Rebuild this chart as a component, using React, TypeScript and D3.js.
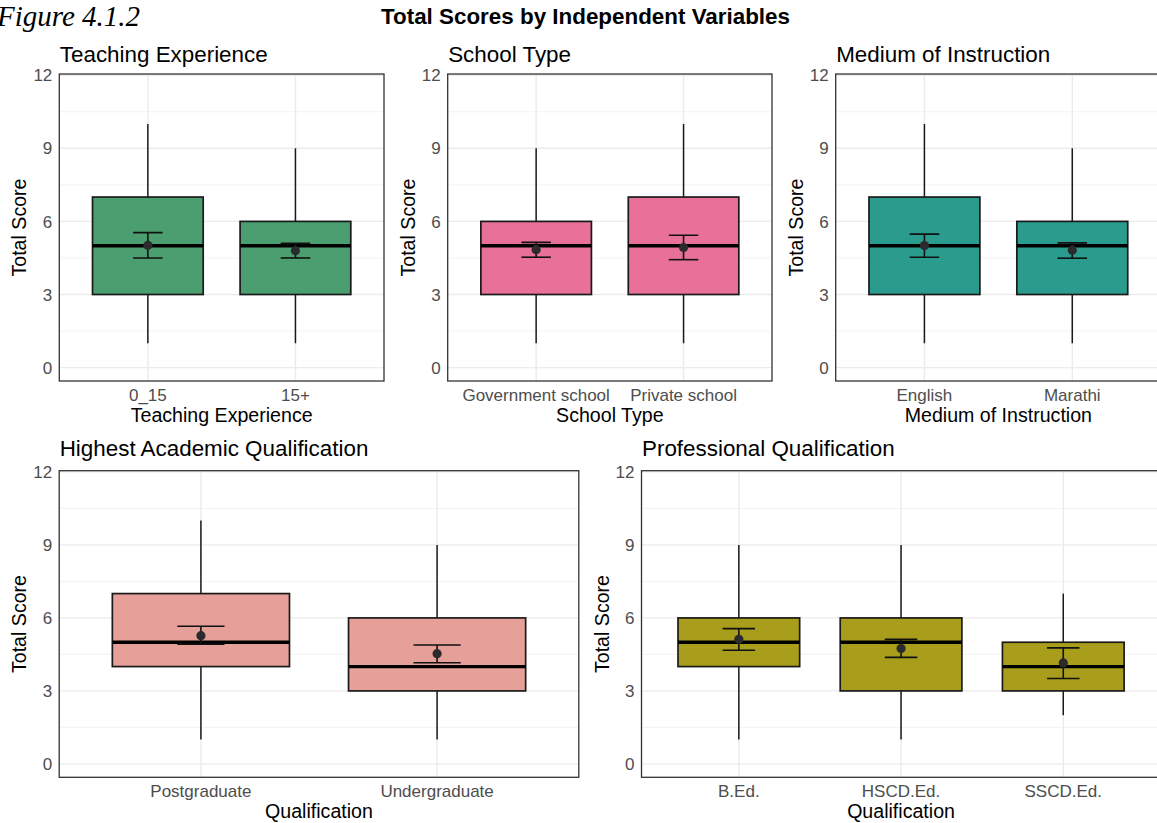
import React from "react";
import * as d3 from "d3";

const W = 1157;
const H = 823;

// Box summaries: [lower whisker, Q1, median, Q3, upper whisker]
// Mean summaries: [mean, lower CI, upper CI]
const experienceLevels = ["0_15", "15+"];
const experienceBoxes = [[1, 3, 5, 7, 10], [1, 3, 5, 6, 9]];
const experienceMeans = [[5.02, 4.5, 5.54], [4.8, 4.5, 5.1]];

const schoolLevels = ["Government school", "Private school"];
const schoolBoxes = [[1, 3, 5, 6, 9], [1, 3, 5, 7, 10]];
const schoolMeans = [[4.84, 4.53, 5.14], [4.93, 4.43, 5.43]];

const mediumLevels = ["English", "Marathi"];
const mediumBoxes = [[1, 3, 5, 7, 10], [1, 3, 5, 6, 9]];
const mediumMeans = [[5.01, 4.53, 5.48], [4.82, 4.49, 5.12]];

const academicLevels = ["Postgraduate", "Undergraduate"];
const academicBoxes = [[1, 4, 5, 7, 10], [1, 3, 4, 6, 9]];
const academicMeans = [[5.27, 4.92, 5.66], [4.53, 4.16, 4.89]];

const professionalLevels = ["B.Ed.", "HSCD.Ed.", "SSCD.Ed."];
const professionalBoxes = [[1, 4, 5, 6, 9], [1, 3, 5, 6, 9], [2, 3, 4, 5, 7]];
const professionalMeans = [[5.12, 4.67, 5.56], [4.74, 4.38, 5.12], [4.15, 3.51, 4.77]];

const yTicks = [0, 3, 6, 9, 12];
const yMinorTicks = [1.5, 4.5, 7.5, 10.5];

const SANS = "'Liberation Sans', Arial, Helvetica, sans-serif";
const TICK_SIZE = 17;
const AXIS_TITLE_SIZE = 19.6;
const PANEL_TITLE_SIZE = 22.4;

type Frame = {
  left: number;
  right: number;
  top: number;
  bottom: number;
  titleGap: number;
};

type PanelProps = {
  title: string;
  xTitle: string;
  levels: string[];
  boxes: number[][];
  means: number[][];
  fill: string;
  frame: Frame;
};

function Panel({ title, xTitle, levels, boxes, means, fill, frame }: PanelProps) {
  const { left, right, top, bottom, titleGap } = frame;
  const x = d3.scaleLinear().domain([0.4, levels.length + 0.6]).range([left, right]);
  const y = d3.scaleLinear().domain([-0.55, 12.05]).range([bottom, top]);
  const half = 0.375;
  const capHalf = 0.1;
  const clipId = `clip-${title.replace(/\W+/g, "")}`;
  const xMid = (left + right) / 2;

  return (
    <g>
      <defs>
        <clipPath id={clipId}>
          <rect x={left} y={top} width={right - left} height={bottom - top} />
        </clipPath>
      </defs>
      <g clipPath={`url(#${clipId})`}>
        {yMinorTicks.map((t) => (
          <line key={`mn${t}`} x1={left} x2={right} y1={y(t)} y2={y(t)} stroke="#f0f0f0" strokeWidth={0.8} />
        ))}
        {yTicks.map((t) => (
          <line key={`mj${t}`} x1={left} x2={right} y1={y(t)} y2={y(t)} stroke="#ebebeb" strokeWidth={1.4} />
        ))}
        {levels.map((l, i) => (
          <line key={`vx${l}`} x1={x(i + 1)} x2={x(i + 1)} y1={top} y2={bottom} stroke="#ebebeb" strokeWidth={1.4} />
        ))}
        {boxes.map((b, i) => {
          const cx = x(i + 1);
          const [lo, q1, med, q3, hi] = b;
          return (
            <g key={`box${i}`}>
              <line x1={cx} x2={cx} y1={y(q3)} y2={y(hi)} stroke="#1a1a1a" strokeWidth={1.5} />
              <line x1={cx} x2={cx} y1={y(q1)} y2={y(lo)} stroke="#1a1a1a" strokeWidth={1.5} />
              <rect
                x={x(i + 1 - half)}
                y={y(q3)}
                width={x(i + 1 + half) - x(i + 1 - half)}
                height={y(q1) - y(q3)}
                fill={fill}
                stroke="#1a1a1a"
                strokeWidth={1.7}
              />
              <line x1={x(i + 1 - half)} x2={x(i + 1 + half)} y1={y(med)} y2={y(med)} stroke="#000" strokeWidth={3.4} />
            </g>
          );
        })}
        {means.map((m, i) => {
          const cx = x(i + 1);
          const [mean, lo, hi] = m;
          return (
            <g key={`mean${i}`}>
              <line x1={cx} x2={cx} y1={y(lo)} y2={y(hi)} stroke="#111" strokeWidth={1.6} />
              <line x1={x(i + 1 - capHalf)} x2={x(i + 1 + capHalf)} y1={y(lo)} y2={y(lo)} stroke="#111" strokeWidth={1.6} />
              <line x1={x(i + 1 - capHalf)} x2={x(i + 1 + capHalf)} y1={y(hi)} y2={y(hi)} stroke="#111" strokeWidth={1.6} />
              <circle cx={cx} cy={y(mean)} r={4.6} fill="#2b2b2b" />
            </g>
          );
        })}
      </g>
      <rect x={left} y={top} width={right - left} height={bottom - top} fill="none" stroke="#333" strokeWidth={1.3} />
      {yTicks.map((t) => (
        <text
          key={`yl${t}`}
          x={left - 7}
          y={y(t)}
          dy="0.36em"
          textAnchor="end"
          fontSize={TICK_SIZE}
          fill="#4d4d4d"
          fontFamily={SANS}
        >
          {t}
        </text>
      ))}
      {levels.map((l, i) => (
        <text
          key={`xl${l}`}
          x={x(i + 1)}
          y={bottom + 19.5}
          textAnchor="middle"
          fontSize={TICK_SIZE}
          fill="#4d4d4d"
          fontFamily={SANS}
        >
          {l}
        </text>
      ))}
      <text x={xMid} y={bottom + 41} textAnchor="middle" fontSize={AXIS_TITLE_SIZE} fill="#000" fontFamily={SANS}>
        {xTitle}
      </text>
      <text
        transform={`translate(${left - 40},${(top + bottom) / 2}) rotate(-90)`}
        dy="0.36em"
        textAnchor="middle"
        fontSize={AXIS_TITLE_SIZE}
        fill="#000"
        fontFamily={SANS}
      >
        Total Score
      </text>
      <text x={left + 0.5} y={top - titleGap} fontSize={PANEL_TITLE_SIZE} fill="#000" fontFamily={SANS}>
        {title}
      </text>
    </g>
  );
}

const topRow = { top: 74, bottom: 381, titleGap: 12.5 };
const bottomRow = { top: 470.7, bottom: 777.3, titleGap: 14.3 };

export default function App() {
  return (
    <svg
      width={W}
      height={H}
      viewBox={`0 0 ${W} ${H}`}
      style={{ position: "absolute", left: 0, top: 0, background: "#fff" }}
    >
      <rect x={0} y={0} width={W} height={H} fill="#fff" />
      <text x={-3} y={26} fontSize={29} fontStyle="italic" fontFamily="'Liberation Serif', 'Times New Roman', serif" fill="#000">
        Figure 4.1.2
      </text>
      <text x={585.5} y={24} textAnchor="middle" fontSize={22.4} fontWeight="bold" fontFamily={SANS} fill="#000">
        Total Scores by Independent Variables
      </text>
      <Panel
        title="Teaching Experience"
        xTitle="Teaching Experience"
        levels={experienceLevels}
        boxes={experienceBoxes}
        means={experienceMeans}
        fill="#4B9E6F"
        frame={{ ...topRow, left: 59.3, right: 384 }}
      />
      <Panel
        title="School Type"
        xTitle="School Type"
        levels={schoolLevels}
        boxes={schoolBoxes}
        means={schoolMeans}
        fill="#E87099"
        frame={{ ...topRow, left: 447.7, right: 772 }}
      />
      <Panel
        title="Medium of Instruction"
        xTitle="Medium of Instruction"
        levels={mediumLevels}
        boxes={mediumBoxes}
        means={mediumMeans}
        fill="#2A9C8E"
        frame={{ ...topRow, left: 835.7, right: 1161 }}
      />
      <Panel
        title="Highest Academic Qualification"
        xTitle="Qualification"
        levels={academicLevels}
        boxes={academicBoxes}
        means={academicMeans}
        fill="#E69F99"
        frame={{ ...bottomRow, left: 59.2, right: 578.8 }}
      />
      <Panel
        title="Professional Qualification"
        xTitle="Qualification"
        levels={professionalLevels}
        boxes={professionalBoxes}
        means={professionalMeans}
        fill="#A99E1B"
        frame={{ ...bottomRow, left: 641.5, right: 1160.6 }}
      />
    </svg>
  );
}
